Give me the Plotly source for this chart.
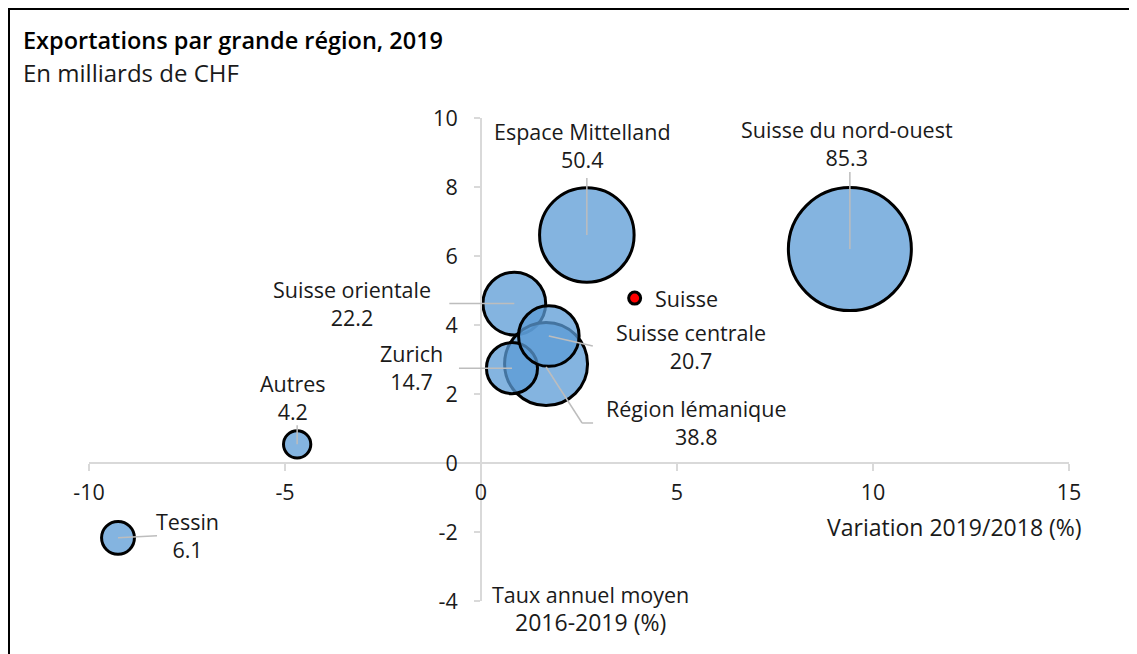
import plotly.graph_objects as go

# ---------------- data ----------------
regions = ["Suisse du nord-ouest", "Espace Mittelland", "Suisse orientale", "Région lémanique",
           "Zurich", "Suisse centrale", "Autres", "Tessin"]
variation_2019_2018 = [9.41, 2.70, 0.85, 1.66, 0.79, 1.73, -4.69, -9.26]   # x, %
taux_annuel_2016_2019 = [6.20, 6.61, 4.62, 2.87, 2.75, 3.68, 0.54, -2.17]  # y, %
exportations = [85.3, 50.4, 22.2, 38.8, 14.7, 20.7, 4.2, 6.1]             # bubble size, mrd CHF

suisse_label = "Suisse"
suisse_x = [3.92]
suisse_y = [4.78]

x_tickvals = [-10, -5, 0, 5, 10, 15]
x_ticktext = ["-10", "-5", "0", "5", "10", "15"]
y_tickvals = [-4, -2, 0, 2, 4, 6, 8, 10]
y_ticktext = ["-4", "-2", "0", "2", "4", "6", "8", "10"]

title_text = "Exportations par grande région, 2019"
subtitle_text = "En milliards de CHF"
x_title = "Variation 2019/2018 (%)"
y_title_lines = ["Taux annuel moyen", "2016-2019 (%)"]

# ---------------- layout / style ----------------
OFF = 8  # page body margin: the figure starts at (8, 8) on screen
W, H = 1137 - OFF, 654 - OFF
ML, MT = 89 - OFF, 118 - OFF
MR = W - (1069 - OFF)
MB = H - (601 - OFF)
PW, PH = W - ML - MR, H - MT - MB
XR, YR = [-10, 15], [-4, 10]


def px_x(sx):  # screen x -> paper fraction
    return (sx - OFF - ML) / PW


def px_y(sy):  # screen y -> paper fraction
    return (MT + PH - (sy - OFF)) / PH


FONT = "Open Sans"
FS = 21.5
TXT = "#1a1a1a"
AXC = "#D9D9D9"
LEAD = "#BDBDBD"

max_radius_px = 61.5
sizeref = max(exportations) / (2 * max_radius_px ** 2)

# label offsets in screen px (dx right, dy down) relative to bubble centre
label_offsets = {
    "Suisse du nord-ouest": (-3, -106),
    "Espace Mittelland": (-4, -89),
    "Suisse orientale": (-162, 0),
    "Région lémanique": (150, 59),
    "Zurich": (-100, -1),
    "Suisse centrale": (142, 10),
    "Autres": (-4, -47),
    "Tessin": (69, -2),
}
# leader polylines in screen px relative to bubble centre
leaders = {
    "Suisse du nord-ouest": [(0, -77), (0, 0)],
    "Espace Mittelland": [(0, -57), (0, 0)],
    "Suisse orientale": [(-65, 0), (0, 0)],
    "Région lémanique": [(0, 3), (36, 59), (47, 59)],
    "Zurich": [(-53, 0), (0, 0)],
    "Suisse centrale": [(0, 0), (44, 10)],
    "Autres": [(0, -19), (0, 0)],
    "Tessin": [(0, 0), (39, -2)],
}

fig = go.Figure()

fig.add_trace(go.Scatter(
    x=variation_2019_2018, y=taux_annuel_2016_2019, mode="markers",
    marker=dict(size=exportations, sizemode="area", sizeref=sizeref, opacity=1,
                color="rgba(91,155,213,0.75)", line=dict(color="black", width=3)),
    cliponaxis=False, hoverinfo="skip", showlegend=False,
))
fig.add_trace(go.Scatter(
    x=suisse_x, y=suisse_y, mode="markers",
    marker=dict(size=12, color="#FF0000", opacity=1, line=dict(color="black", width=3)),
    cliponaxis=False, hoverinfo="skip", showlegend=False,
))

shapes = []
annotations = []
for name, xv, yv, val in zip(regions, variation_2019_2018, taux_annuel_2016_2019, exportations):
    dx, dy = label_offsets[name]
    annotations.append(dict(
        x=xv, y=yv, xref="x", yref="y", text=f"{name}<br>{val}", showarrow=False,
        xanchor="center", yanchor="middle", xshift=dx, yshift=-dy,
        font=dict(family=FONT, size=FS, color=TXT),
    ))
    pts = leaders[name]
    for (x0, y0), (x1, y1) in zip(pts[:-1], pts[1:]):
        shapes.append(dict(
            type="line", xref="x", yref="y", xsizemode="pixel", ysizemode="pixel",
            xanchor=xv, yanchor=yv, x0=x0, x1=x1, y0=-y0, y1=-y1,
            line=dict(color=LEAD, width=1.5), layer="above",
        ))

annotations.append(dict(
    x=suisse_x[0], y=suisse_y[0], xref="x", yref="y", text=suisse_label, showarrow=False,
    xanchor="left", yanchor="middle", xshift=18, yshift=0,
    font=dict(family=FONT, size=FS, color=TXT),
))

# axis titles
annotations.append(dict(
    x=px_x(1084), y=px_y(527), xref="paper", yref="paper", text=x_title,
    showarrow=False, xanchor="right", yanchor="middle",
    font=dict(family=FONT, size=23, color=TXT),
))
annotations.append(dict(
    x=px_x(590), y=px_y(609), xref="paper", yref="paper",
    text=f"{y_title_lines[0]}<br><span style='font-size:23px'>{y_title_lines[1]}</span>",
    showarrow=False, xanchor="center", yanchor="middle",
    font=dict(family=FONT, size=FS, color=TXT),
))
# title & subtitle
annotations.append(dict(
    x=px_x(21), y=px_y(40), xref="paper", yref="paper", text=title_text,
    showarrow=False, xanchor="left", yanchor="middle",
    font=dict(family=FONT, size=23.5, color="#000000", weight=600),
))
annotations.append(dict(
    x=px_x(21), y=px_y(73), xref="paper", yref="paper", text=subtitle_text,
    showarrow=False, xanchor="left", yanchor="middle",
    font=dict(family=FONT, size=24, color=TXT),
))

# outer frame (left and top edges visible)
shapes.append(dict(
    type="rect", xref="paper", yref="paper",
    x0=px_x(9), x1=px_x(1145),
    y0=px_y(660), y1=px_y(9),
    line=dict(color="black", width=2), fillcolor="rgba(0,0,0,0)", layer="below",
))

fig.update_layout(
    width=W, height=H,
    margin=dict(l=ML, r=MR, t=MT, b=MB, autoexpand=False),
    paper_bgcolor="white", plot_bgcolor="white",
    font=dict(family=FONT, size=FS, color=TXT),
    showlegend=False,
    shapes=shapes, annotations=annotations,
    xaxis=dict(
        range=XR, domain=[0, 1], tickvals=x_tickvals, ticktext=x_ticktext,
        showgrid=False, zeroline=False, showline=True, linecolor=AXC, linewidth=2,
        ticks="outside", ticklen=7, tickwidth=2, tickcolor=AXC,
        anchor="free", position=(0 - YR[0]) / (YR[1] - YR[0]),
        ticklabelstandoff=3, tickfont=dict(family=FONT, size=FS, color=TXT),
        fixedrange=True,
    ),
    yaxis=dict(
        range=YR, domain=[0, 1], tickvals=y_tickvals, ticktext=y_ticktext,
        showgrid=False, zeroline=False, showline=True, linecolor=AXC, linewidth=2,
        ticks="outside", ticklen=6, tickwidth=2, tickcolor=AXC,
        anchor="free", position=(0 - XR[0]) / (XR[1] - XR[0]),
        ticklabelstandoff=12, tickfont=dict(family=FONT, size=FS, color=TXT),
        fixedrange=True,
    ),
)

fig.write_html("out.html")
